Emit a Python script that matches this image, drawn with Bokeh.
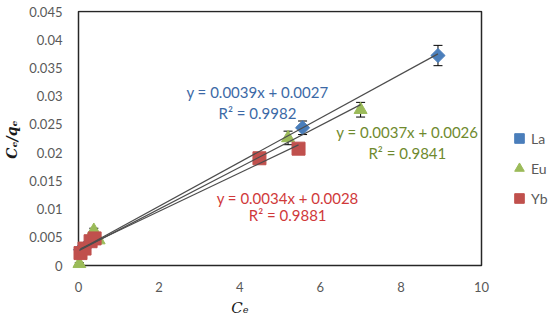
import math
from bokeh.plotting import figure
from bokeh.models import (ColumnDataSource, Label, Legend, LegendItem, FixedTicker,
                          Whisker, TeeHead)
from bokeh.embed import file_html
from bokeh.resources import INLINE

# ---- data ----
la_x = [0.05, 0.2, 5.56, 8.92]
la_y = [0.0028, 0.0035, 0.0244, 0.0372]
la_err = [0.0002, 0.0002, 0.0012, 0.0018]

eu_x = [0.02, 0.5, 0.38, 5.2, 7.0]
eu_y = [0.0003, 0.0045, 0.0062, 0.0226, 0.0276]
eu_err = [0.0002, 0.0002, 0.0004, 0.0012, 0.0013]

yb_x = [0.05, 0.15, 0.3, 0.4, 4.49, 5.46]
yb_y = [0.0022, 0.0030, 0.0043, 0.0048, 0.0190, 0.0207]

series_names = ["La", "Eu", "Yb"]
slopes = [0.0039, 0.0037, 0.0034]
intercepts = [0.0027, 0.0026, 0.0028]
eq_texts = ["y = 0.0039x + 0.0027", "y = 0.0037x + 0.0026", "y = 0.0034x + 0.0028"]
r2_texts = ["R\u00b2 = 0.9982", "R\u00b2 = 0.9841", "R\u00b2 = 0.9881"]

x_min, x_max = 0, 10
y_min, y_max = 0, 0.045
x_ticks = [0, 2, 4, 6, 8, 10]
y_ticks = [0, 0.005, 0.01, 0.015, 0.02, 0.025, 0.03, 0.035, 0.04, 0.045]
y_tick_labels = ["0", "0.005", "0.01", "0.015", "0.02", "0.025", "0.03", "0.035", "0.04", "0.045"]

# ---- styles / layout ----
marker_colors = ["#4A7EBB", "#9BBB59", "#C0504D"]
text_colors = ["#3C69A6", "#6F8A2E", "#D0393A"]
font = "Lato"
W, H = 550, 326
# pixel geometry of the visible axes box, and of the (larger) bokeh frame
BOX_L, BOX_R, BOX_T, BOX_B = 78, 481, 11, 265
FR_L, FR_R, FR_T, FR_B = 72, 550, 10, 268
ux = (x_max - x_min) / (BOX_R - BOX_L)
uy = (y_max - y_min) / (BOX_B - BOX_T)
xr = (x_min - (BOX_L - FR_L) * ux, x_max + (FR_R - BOX_R) * ux)
yr = (y_min - (FR_B - BOX_B) * uy, y_max + (BOX_T - FR_T) * uy)

p = figure(width=W, height=H, x_range=xr, y_range=yr,
           output_backend="svg", toolbar_location=None,
           min_border_left=FR_L, min_border_right=W - FR_R,
           min_border_top=FR_T, min_border_bottom=H - FR_B)
p.grid.visible = False
p.outline_line_color = None
p.background_fill_color = "white"
p.border_fill_color = "white"

for ax in (p.xaxis[0], p.yaxis[0]):
    ax.axis_line_color = None
    ax.major_tick_line_color = None
    ax.minor_tick_line_color = None
    ax.major_tick_out = 0
    ax.major_tick_in = 0
    ax.minor_tick_out = 0
    ax.minor_tick_in = 0
    ax.major_label_text_font = font
    ax.major_label_text_font_size = "13px"
    ax.major_label_text_color = "#595959"
p.xaxis.ticker = FixedTicker(ticks=x_ticks)
p.yaxis.ticker = FixedTicker(ticks=y_ticks)
p.yaxis.major_label_overrides = {t: l for t, l in zip(y_ticks, y_tick_labels)}
p.yaxis.major_label_standoff = 10
p.xaxis.major_label_standoff = 13

p.yaxis.axis_label = "C\u2091/q\u2091"
p.yaxis.axis_label_text_font = "DejaVu Serif"
p.yaxis.axis_label_text_font_style = "bold italic"
p.yaxis.axis_label_text_font_size = "14px"
p.yaxis.axis_label_text_color = "#1a1a1a"
p.yaxis.axis_label_standoff = 6

# x-axis title, shifted left of centre as in the reference (trailing no-break spaces)
p.xaxis.axis_label = "C\u2091" + "\u00a0" * 30
p.xaxis.axis_label_text_font = "DejaVu Serif"
p.xaxis.axis_label_text_font_style = "italic"
p.xaxis.axis_label_text_font_size = "15px"
p.xaxis.axis_label_text_color = "#1a1a1a"
p.xaxis.axis_label_standoff = 4

# axes box
p.quad(left=[x_min], right=[x_max], bottom=[y_min], top=[y_max],
       fill_color=None, line_color="#262626", line_width=1.5)

# error bars (behind markers)
err_data = [(la_x, la_y, la_err), (eu_x, eu_y, eu_err)]
for xs, ys, es in err_data:
    src = ColumnDataSource(dict(x=xs, lo=[a - b for a, b in zip(ys, es)],
                                hi=[a + b for a, b in zip(ys, es)]))
    w = Whisker(source=src, base="x", lower="lo", upper="hi", dimension="height",
                line_color="black", line_width=1, level="underlay",
                lower_head=TeeHead(size=9, line_color="black", line_width=1),
                upper_head=TeeHead(size=9, line_color="black", line_width=1))
    p.add_layout(w)

r_la = p.scatter(la_x, la_y, marker="square", angle=math.pi / 4, size=10,
                 fill_color=marker_colors[0], line_color=marker_colors[0])
r_eu = p.scatter(eu_x, eu_y, marker="triangle", size=13,
                 fill_color=marker_colors[1], line_color=marker_colors[1])
r_yb = p.scatter(yb_x, yb_y, marker="square", size=13,
                 fill_color=marker_colors[2], line_color=marker_colors[2])

# linear trendlines over each series' x range
for xs, m, b in zip([la_x, eu_x, yb_x], slopes, intercepts):
    x0, x1 = min(xs), max(xs)
    p.line([x0, x1], [m * x0 + b, m * x1 + b], line_color="#4d4d4d", line_width=1.2)

# equation labels
eq_pos = [(4.44, 0.0308), (8.16, 0.0237), (5.19, 0.0120)]
r2_pos = [(4.44, 0.0271), (8.16, 0.0200), (5.19, 0.00886)]
for i in range(3):
    p.add_layout(Label(x=eq_pos[i][0], y=eq_pos[i][1], text=eq_texts[i],
                       text_align="center", text_baseline="middle",
                       text_font=font, text_font_size="15px", text_color=text_colors[i]))
    p.add_layout(Label(x=r2_pos[i][0], y=r2_pos[i][1], text=r2_texts[i],
                       text_align="center", text_baseline="middle",
                       text_font=font, text_font_size="15px", text_color=text_colors[i]))

legend = Legend(items=[LegendItem(label=n, renderers=[r]) for n, r in
                       zip(series_names, [r_la, r_eu, r_yb])],
                location=(507 - FR_L, FR_B - 210), border_line_color=None,
                background_fill_alpha=0,
                padding=0, margin=0, spacing=6, glyph_width=24, glyph_height=24,
                label_height=24, label_standoff=0, label_text_font=font,
                label_text_font_size="14px", label_text_color="#595959")
p.add_layout(legend)

open("out.html", "w").write(file_html(p, INLINE))
